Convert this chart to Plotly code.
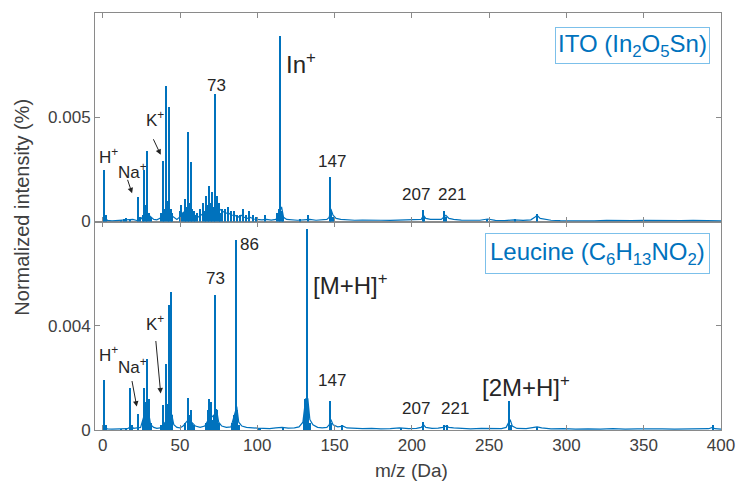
import plotly.graph_objects as go

# ---------------- data ----------------
# ITO spectrum: discrete peaks
ito_peak_mz = [1, 2, 12, 14, 15, 18, 23, 24, 26, 27, 28, 29, 30, 31, 38, 39, 40, 41, 42, 43,
               44, 45, 50, 51, 52, 53, 54, 55, 56, 57, 58, 59, 60, 61, 63, 65, 66, 67, 68, 69,
               70, 71, 72, 73, 74, 75, 76, 77, 79, 81, 83, 85, 87, 89, 91, 93, 95, 97, 99, 105,
               113, 114, 115, 116, 117, 128, 133, 147, 148, 149, 207, 208, 221, 222, 249, 267, 281]
ito_peak_int = [0.00245, 0.0003, 0.00008, 0.0001, 0.00015, 0.0001, 0.00116, 0.0002, 0.0003, 0.00245,
                0.0008, 0.0034, 0.0004, 0.0002, 0.0004, 0.0029, 0.0006, 0.0065, 0.0010, 0.0055,
                0.0006, 0.0004, 0.0005, 0.0008, 0.0004, 0.0011, 0.0007, 0.00427, 0.0009, 0.00285,
                0.0006, 0.0005, 0.0003, 0.0004, 0.0006, 0.0009, 0.0005, 0.0012, 0.0008, 0.0017,
                0.0009, 0.0014, 0.0007, 0.0061, 0.0012, 0.0009, 0.0004, 0.0006, 0.0006, 0.0007,
                0.0005, 0.0005, 0.0003, 0.0003, 0.0006, 0.0003, 0.0005, 0.0003, 0.0002, 0.0003,
                0.0004, 0.0006, 0.0089, 0.0005, 0.0002, 0.0001, 0.0003, 0.00213, 0.0005, 0.0002,
                0.00055, 0.0002, 0.00048, 0.0002, 0.0001, 0.00012, 0.00035]
# ITO spectrum: continuous background
ito_base_mz = [0, 0.5, 1.6, 3, 6, 9, 12.5, 16, 19.5, 22, 24.5, 25.5, 28.5, 31.5, 33, 35, 37, 40.5,
               42.5, 44.5, 46, 48, 49.5, 51.5, 53.5, 55.5, 57.5, 59.5, 61.5, 63.5, 65.5, 67.5, 69.5,
               71.5, 73.6, 75.5, 77.5, 79.5, 81.5, 83.5, 85.5, 87.5, 89.5, 91.5, 93.5, 95.5, 97.5,
               100, 103, 106, 109, 112, 114.2, 115.7, 117, 119, 122, 126, 130, 134, 138, 142, 145,
               146.5, 147.6, 149, 151, 154, 158, 163, 168, 174, 180, 186, 192, 198, 203, 206, 207.5,
               209, 212, 216, 219, 220.5, 222, 224, 227, 232, 238, 244, 249, 254, 260, 266, 272, 277,
               279.5, 281, 283, 286, 290, 296, 303, 310, 318, 326, 334, 342, 350, 358, 366, 374,
               382, 390, 396, 400]
ito_base_int = [0.00003, 0.00003, 0.0002, 0.00005, 0.00003, 0.00004, 0.00008, 0.00006, 0.0001,
                0.00005, 0.0001, 0.0002, 0.0004, 0.0002, 0.0001, 0.00008, 0.00015, 0.0005, 0.0004,
                0.0003, 0.0002, 0.0001, 0.0002, 0.0004, 0.0005, 0.0006, 0.0005, 0.0003, 0.0002,
                0.0003, 0.0004, 0.0005, 0.0006, 0.0005, 0.0009, 0.0006, 0.0005, 0.0004, 0.0004,
                0.0003, 0.0003, 0.0002, 0.0003, 0.0002, 0.00015, 0.0002, 0.00012, 0.0001, 0.00008,
                0.0001, 0.00007, 0.0001, 0.0004, 0.0007, 0.0002, 0.0001, 0.00008, 0.00006, 0.00008,
                0.0001, 0.00006, 0.00008, 0.0001, 0.0002, 0.0006, 0.0003, 0.00015, 0.0001, 0.00008,
                0.00006, 0.00007, 0.00005, 0.00006, 0.00005, 0.00007, 0.00006, 0.00008, 0.0001,
                0.0003, 0.00015, 0.0001, 0.00008, 0.0001, 0.0002, 0.0003, 0.00015, 0.0001, 0.00007,
                0.00005, 0.00006, 0.00012, 0.00005, 0.00004, 0.00008, 0.00005, 0.00008, 0.0002,
                0.0003, 0.00015, 0.0001, 0.00006, 0.00004, 0.00003, 0.00004, 0.00003, 0.00005,
                0.00003, 0.00004, 0.00005, 0.00004, 0.00006, 0.00004, 0.00005, 0.00003, 0.00005,
                0.00003]

# Leucine spectrum: discrete peaks
leu_peak_mz = [1, 2, 12, 15, 18, 19, 23, 26, 27, 28, 29, 30, 31, 38, 39, 40, 41, 42, 43, 44, 45,
               53, 55, 56, 57, 58, 59, 67, 68, 69, 70, 71, 72, 73, 74, 75, 84, 85, 86, 87, 88,
               101, 102, 117, 130, 131, 132, 133, 134, 147, 148, 155, 193, 207, 221, 223, 263,
               264, 281, 395]
leu_peak_int = [0.00194, 0.0002, 0.00005, 0.0001, 0.00162, 0.0002, 0.00065, 0.0004, 0.00162,
                0.0011, 0.00273, 0.0012, 0.0003, 0.0002, 0.00096, 0.0003, 0.00256, 0.0010,
                0.00483, 0.0053, 0.0006, 0.0003, 0.00124, 0.0006, 0.0008, 0.0003, 0.0002, 0.0003,
                0.0008, 0.0012, 0.0011, 0.0004, 0.0006, 0.0052, 0.0008, 0.0003, 0.0003, 0.0006,
                0.00731, 0.0008, 0.0002, 0.0001, 0.0001, 0.0001, 0.0005, 0.0012, 0.00773, 0.0009,
                0.0003, 0.00112, 0.0003, 0.0002, 0.00008, 0.00032, 0.0002, 0.0002, 0.00112,
                0.0002, 0.00015, 0.0002]
# Leucine spectrum: continuous background
leu_base_mz = [0, 0.5, 1.6, 3, 6, 9, 12.5, 16, 17.5, 18.6, 20, 22, 24.5, 25.5, 28.5, 29.6, 31, 33,
               35, 37, 40.5, 42.5, 44.6, 46, 48, 50, 52, 54, 55.6, 57.5, 60, 63, 66, 67.5, 69.5,
               71.5, 73.6, 75, 77, 80, 83, 85.3, 86.7, 88, 90, 93, 96, 100, 104, 108, 112, 116,
               120, 124, 127, 129.5, 131.3, 132.7, 134, 136, 139, 142, 145, 146.5, 147.6, 149,
               152, 155.5, 158, 162, 168, 174, 180, 186, 192, 198, 203, 206, 207.6, 209, 213,
               217, 220, 222, 224, 227, 232, 238, 245, 252, 258, 261, 262.5, 263.6, 265, 268,
               274, 279, 281, 284, 290, 298, 306, 314, 322, 330, 338, 346, 354, 362, 370, 378,
               386, 392, 394.5, 396, 400]
leu_base_int = [0.00003, 0.00003, 0.00012, 0.00004, 0.00003, 0.00004, 0.00006, 0.00005, 0.0001,
                0.00015, 0.00006, 0.00008, 0.0001, 0.0003, 0.0009, 0.0007, 0.0002, 0.0001,
                0.00006, 0.00008, 0.0003, 0.0007, 0.0006, 0.0002, 0.0001, 0.00008, 0.00015,
                0.0003, 0.0004, 0.0003, 0.00015, 0.0001, 0.00015, 0.0003, 0.0006, 0.0005, 0.0008,
                0.0003, 0.00015, 0.0001, 0.00012, 0.0006, 0.0009, 0.0003, 0.00015, 0.0001,
                0.00008, 0.00007, 0.00006, 0.00005, 0.00008, 0.0001, 0.00007, 0.00008, 0.00012,
                0.0003, 0.0012, 0.0012, 0.0004, 0.0002, 0.0001, 0.00008, 0.0001, 0.0002, 0.0004,
                0.0002, 0.00012, 0.00015, 0.00008, 0.00006, 0.00005, 0.00006, 0.00004, 0.00005,
                0.00008, 0.00005, 0.00006, 0.0001, 0.0002, 0.0001, 0.00006, 0.00007, 0.0001,
                0.00015, 0.0001, 0.00008, 0.00005, 0.00004, 0.00006, 0.00004, 0.00005, 0.0001,
                0.0003, 0.0004, 0.00015, 0.00006, 0.00005, 0.00008, 0.00012, 0.00008, 0.00004,
                0.00005, 0.00003, 0.00004, 0.00003, 0.00005, 0.00003, 0.00004, 0.00005, 0.00004,
                0.00003, 0.00004, 0.00003, 0.00005, 0.0001, 0.00005, 0.00003]

x_ticks = [0, 50, 100, 150, 200, 250, 300, 350, 400]
ito_y_ticks = [0, 0.005]
ito_y_labels = ["0", "0.005"]
leu_y_ticks = [0, 0.004]
leu_y_labels = ["0", "0.004"]

# ---------------- figure ----------------
BLUE = "#0072BD"
FONT = "Liberation Sans, Arial, Helvetica, sans-serif"
TXT = "#262626"

fig = go.Figure()

def add_spectrum(base_mz, base_int, pk_mz, pk_int, xa, ya):
    fig.add_trace(go.Scatter(x=base_mz, y=base_int, mode="lines",
                             line=dict(color=BLUE, width=1.2), xaxis=xa, yaxis=ya,
                             showlegend=False, hoverinfo="skip"))
    fig.add_trace(go.Bar(x=pk_mz, y=pk_int, width=0.8, marker=dict(color=BLUE, line=dict(width=0)),
                         xaxis=xa, yaxis=ya, showlegend=False, hoverinfo="skip"))

add_spectrum(ito_base_mz, ito_base_int, ito_peak_mz, ito_peak_int, "x2", "y2")
add_spectrum(leu_base_mz, leu_base_int, leu_peak_mz, leu_peak_int, "x", "y")

axis_common = dict(showline=True, linecolor="#8a8a8a", linewidth=1, mirror="ticks",
                   ticks="inside", ticklen=5, tickcolor="#8a8a8a", showgrid=False,
                   zeroline=False, automargin=False,
                   tickfont=dict(family=FONT, size=17, color="#404040"))

fig.update_layout(
    width=736, height=484,
    margin=dict(l=95, r=15, t=13, b=54),
    plot_bgcolor="white", paper_bgcolor="white",
    bargap=0,
    xaxis=dict(domain=[0, 1], range=[-5, 400], tickvals=x_ticks, anchor="y", **axis_common),
    xaxis2=dict(domain=[0, 1], range=[-5, 400], tickvals=x_ticks, showticklabels=False,
                anchor="y2", matches="x", **axis_common),
    yaxis=dict(domain=[0, 0.5], range=[0, 0.008], tickvals=leu_y_ticks, ticktext=leu_y_labels,
               anchor="x", **axis_common),
    yaxis2=dict(domain=[0.5, 1], range=[0, 0.01], tickvals=ito_y_ticks, ticktext=ito_y_labels,
                anchor="x2", **axis_common),
)

ann = []
def label(text, x, y, xr, yr, size=17, xanchor="center"):
    ann.append(dict(text=text, x=x, y=y, xref=xr, yref=yr, showarrow=False,
                    xanchor=xanchor, yanchor="middle",
                    font=dict(family=FONT, size=size, color=TXT)))

def arrow(x, y, xr, yr, ax, ay):
    ann.append(dict(text="", x=x, y=y, xref=xr, yref=yr, showarrow=True, ax=ax, ay=ay,
                    arrowhead=2, arrowsize=1.1, arrowwidth=1, arrowcolor="#222222",
                    standoff=0))

# top (ITO) labels
label("H<sup>+</sup>", -3.5, 0.00315, "x2", "y2", xanchor="left")
label("Na<sup>+</sup>", 8.5, 0.0024, "x2", "y2", xanchor="left")
label("K<sup>+</sup>", 26.5, 0.0049, "x2", "y2", xanchor="left")
label("73", 73.5, 0.0065, "x2", "y2")
label("In<sup>+</sup>", 117.5, 0.0076, "x2", "y2", size=24, xanchor="left")
label("147", 148.2, 0.0029, "x2", "y2")
label("207", 202.6, 0.0013, "x2", "y2")
label("221", 226, 0.0013, "x2", "y2")
arrow(19, 0.00135, "x2", "y2", -5, -15)
arrow(37.5, 0.0032, "x2", "y2", -8, -17)

# bottom (Leucine) labels
label("H<sup>+</sup>", -4, 0.0029, "x", "y", xanchor="left")
label("Na<sup>+</sup>", 8.5, 0.00245, "x", "y", xanchor="left")
label("K<sup>+</sup>", 27, 0.0041, "x", "y", xanchor="left")
label("73", 73, 0.0058, "x", "y")
label("86", 95, 0.0071, "x", "y")
label("[M+H]<sup>+</sup>", 134.5, 0.0056, "x", "y", size=24, xanchor="left")
label("147", 148.2, 0.0019, "x", "y")
label("207", 202.6, 0.00082, "x", "y")
label("221", 228, 0.00082, "x", "y")
label("[2M+H]<sup>+</sup>", 244, 0.0017, "x", "y", size=24, xanchor="left")
arrow(22, 0.0009, "x", "y", -5, -27)
arrow(37.5, 0.0014, "x", "y", -5, -54)

# sample boxes
for txt, yr, ytop, pad in [("ITO (In<sub>2</sub>O<sub>5</sub>Sn)", "y2 domain", 0.935, 2),
                           ("Leucine (C<sub>6</sub>H<sub>13</sub>NO<sub>2</sub>)", "y domain", 0.945, 4)]:
    ann.append(dict(text=txt, x=0.982, y=ytop, xref="x domain", yref=yr, showarrow=False,
                    xanchor="right", yanchor="top", bordercolor="#7cc0ea", borderwidth=1,
                    borderpad=pad, bgcolor="white",
                    font=dict(family=FONT, size=24, color=BLUE)))

# axis titles
ann.append(dict(text="Normalized intensity (%)", x=-0.117, y=0.535, xref="paper", yref="paper",
                showarrow=False, textangle=-90, xanchor="center", yanchor="middle",
                font=dict(family=FONT, size=20, color="#404040")))
ann.append(dict(text="m/z (Da)", x=0.506, y=-0.096, xref="paper", yref="paper",
                showarrow=False, xanchor="center", yanchor="middle",
                font=dict(family=FONT, size=19, color="#404040")))

fig.update_layout(annotations=ann)
fig.write_html("out.html", config={"displayModeBar": False},
               post_script="document.body.style.margin='0';")
